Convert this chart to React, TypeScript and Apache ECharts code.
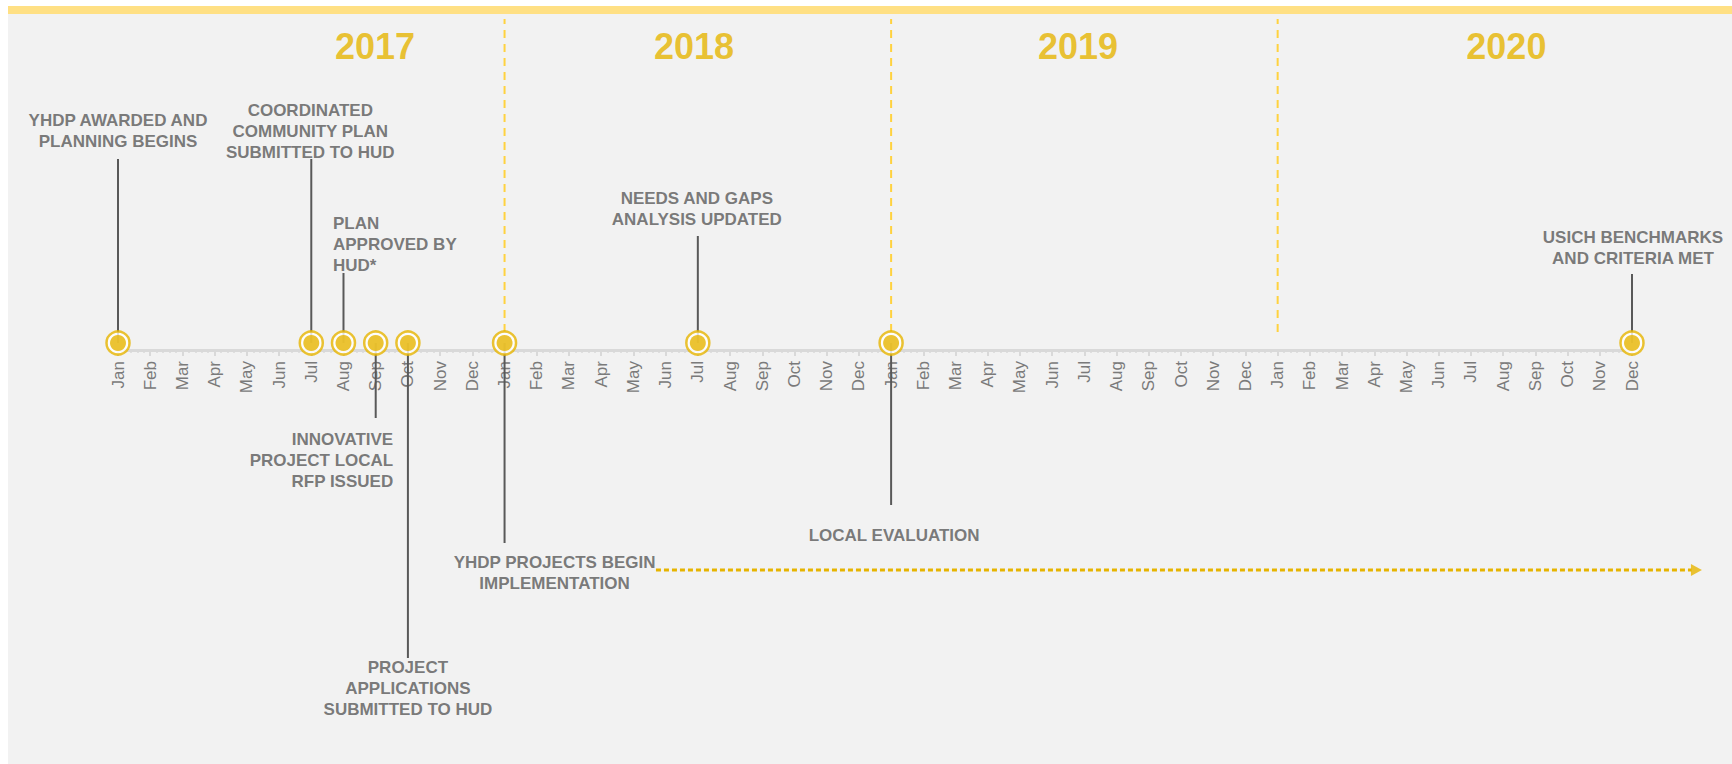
import React, { useEffect, useRef } from "react";
import * as echarts from "echarts";

// ---- data ----
const monthNames = ["Jan", "Feb", "Mar", "Apr", "May", "Jun", "Jul", "Aug", "Sep", "Oct", "Nov", "Dec"];
const years = ["2017", "2018", "2019", "2020"];
const yearBoundaryMonths = [12, 24, 36];
// month index from Jan 2017
const milestoneMonths = [0, 6, 7, 8, 9, 12, 18, 24, 47];
const milestoneTexts = [
  "YHDP AWARDED AND\nPLANNING BEGINS",
  "COORDINATED\nCOMMUNITY PLAN\nSUBMITTED TO HUD",
  "PLAN\nAPPROVED BY\nHUD*",
  "INNOVATIVE\nPROJECT LOCAL\nRFP ISSUED",
  "PROJECT\nAPPLICATIONS\nSUBMITTED TO HUD",
  "YHDP PROJECTS BEGIN\nIMPLEMENTATION",
  "NEEDS AND GAPS\nANALYSIS UPDATED",
  "LOCAL EVALUATION",
  "USICH BENCHMARKS\nAND CRITERIA MET",
];
// implementation period (month index), arrow
const implementationSpan = [16.7, 48.85];

// ---- layout (pixels above axis line) ----
const markerLift = 7;
const stemEnds = [191, 191, 77, -68, -308, -193, 114, -155, 76];
const labelY = [218.8, 218.7, 105.5, -110, -338.7, -223, 141.2, -185, 102.5];
const labelDx = [0, -1, -10.5, 17.5, 0, 50, -1, 3, 1];
const labelAlign = ["center", "center", "left", "right", "center", "center", "center", "center", "center"];
const yearLabelPos = [7.98, 17.88, 29.8, 43.1];
const yearLabelY = 304;
const arrowY = -220;

const FONT = '"Liberation Sans", Arial, Helvetica, sans-serif';
const GOLD = "#e6b400";
const TEXT = "#595959";
const CHART_W = 1724;
const CHART_H = 758;
const GRID_LEFT = 110;
const GRID_W = 1514;
const PX_PER_MONTH = GRID_W / 47;
const OVER_W = CHART_W - GRID_LEFT;

export default function App() {
  const ref = useRef<HTMLDivElement>(null);

  useEffect(() => {
    if (!ref.current) return;
    const chart = echarts.init(ref.current, undefined, { renderer: "svg" });

    const series: any[] = [];

    yearBoundaryMonths.forEach((m) => {
      series.push({
        type: "line",
        data: [
          [m, 18],
          [m, 331],
        ],
        symbol: "none",
        silent: true,
        z: 1,
        lineStyle: { color: "#ffd23f", width: 2, type: [8, 6] },
      });
    });

    milestoneMonths.forEach((m, i) => {
      series.push({
        type: "line",
        xAxisIndex: 1,
        yAxisIndex: 1,
        data: [
          [m, markerLift],
          [m, stemEnds[i]],
        ],
        symbol: "none",
        silent: true,
        z: 2,
        lineStyle: { color: TEXT, width: 2 },
      });
    });

    series.push({
      type: "line",
      xAxisIndex: 1,
      yAxisIndex: 1,
      data: [
        [implementationSpan[0], arrowY],
        [implementationSpan[1], arrowY],
      ],
      symbol: "none",
      silent: true,
      z: 2,
      lineStyle: { color: GOLD, width: 3, type: [5, 3] },
    });
    series.push({
      type: "scatter",
      xAxisIndex: 1,
      yAxisIndex: 1,
      data: [[implementationSpan[1] + 0.15, arrowY]],
      symbol: "triangle",
      symbolRotate: -90,
      symbolSize: [12, 11],
      silent: true,
      z: 3,
      itemStyle: { color: GOLD },
    });

    series.push({
      type: "scatter",
      xAxisIndex: 1,
      yAxisIndex: 1,
      data: milestoneMonths.map((m) => [m, markerLift]),
      symbol: "circle",
      symbolSize: 23,
      silent: true,
      z: 4,
      itemStyle: { color: "#ffffff", borderColor: GOLD, borderWidth: 2.5 },
    });
    series.push({
      type: "scatter",
      xAxisIndex: 1,
      yAxisIndex: 1,
      data: milestoneMonths.map((m) => [m, markerLift]),
      symbol: "circle",
      symbolSize: 16,
      silent: true,
      z: 5,
      itemStyle: { color: GOLD },
    });

    series.push({
      type: "scatter",
      xAxisIndex: 1,
      yAxisIndex: 1,
      data: milestoneMonths.map((m, i) => ({
        value: [m, labelY[i]],
        label: {
          formatter: milestoneTexts[i],
          align: labelAlign[i],
          offset: [labelDx[i], 0],
        },
      })),
      symbolSize: 1,
      clip: false,
      silent: true,
      z: 6,
      itemStyle: { color: "rgba(0,0,0,0)" },
      label: {
        show: true,
        position: "inside",
        color: TEXT,
        fontFamily: FONT,
        fontWeight: "bold",
        fontSize: 17,
        lineHeight: 21,
      },
    });

    series.push({
      type: "scatter",
      xAxisIndex: 1,
      yAxisIndex: 1,
      data: years.map((y, i) => ({ value: [yearLabelPos[i], yearLabelY], label: { formatter: y } })),
      symbolSize: 1,
      clip: false,
      silent: true,
      z: 6,
      itemStyle: { color: "rgba(0,0,0,0)" },
      label: {
        show: true,
        position: "inside",
        color: GOLD,
        fontFamily: FONT,
        fontWeight: "bold",
        fontSize: 36,
      },
    });

    chart.setOption({
      animation: false,
      backgroundColor: "#f2f2f2",
      graphic: [
        {
          type: "rect",
          left: 0,
          top: 0,
          shape: { width: CHART_W, height: 8 },
          style: { fill: "#ffe084" },
          silent: true,
        },
      ],
      grid: [
        { left: GRID_LEFT, top: 0, width: GRID_W, height: 344, containLabel: false },
        { left: GRID_LEFT, top: 0, width: OVER_W, height: CHART_H, containLabel: false },
      ],
      xAxis: [
        {
          type: "value",
          gridIndex: 0,
          min: 0,
          max: 47,
          interval: 1,
          position: "bottom",
          splitLine: { show: false },
          axisLine: { show: true, onZero: false, lineStyle: { color: "#d9d9d9", width: 3 } },
          axisTick: { show: true, length: 6, lineStyle: { color: "#d9d9d9", width: 2 } },
          minorTick: { show: true, splitNumber: 5, length: 3, lineStyle: { color: "#d9d9d9", width: 1.5 } },
          axisLabel: {
            rotate: 90,
            margin: 11,
            color: "#7a7a7a",
            fontFamily: FONT,
            fontSize: 17,
            formatter: (v: number) => monthNames[Math.round(v) % 12],
          },
        },
        {
          type: "value",
          gridIndex: 1,
          min: 0,
          max: OVER_W / PX_PER_MONTH,
          show: false,
          splitLine: { show: false },
        },
      ],
      yAxis: [
        { type: "value", gridIndex: 0, min: 0, max: 344, show: false, splitLine: { show: false } },
        { type: "value", gridIndex: 1, min: 344 - CHART_H, max: 344, show: false, splitLine: { show: false } },
      ],
      series,
    });

    return () => chart.dispose();
  }, []);

  return (
    <div style={{ position: "fixed", left: 8, top: 6, width: CHART_W, height: CHART_H }}>
      <div ref={ref} style={{ width: CHART_W, height: CHART_H }} />
    </div>
  );
}
